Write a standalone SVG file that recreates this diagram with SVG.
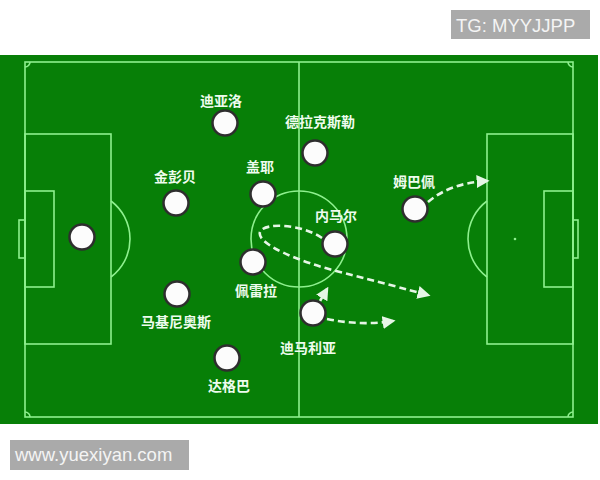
<svg xmlns="http://www.w3.org/2000/svg" width="600" height="480" viewBox="0 0 600 480">
<defs>
<style>
.ln{fill:none;stroke:#8ef08e;stroke-width:1.6}
.pl circle{fill:#fcfcfc;stroke:#2e2e2e;stroke-width:2.5}
.pl text{font-family:"Noto Sans CJK SC","Noto Sans",sans-serif;font-size:14px;font-weight:bold;fill:#eefcee;text-anchor:middle}
.mv{fill:none;stroke:#e6f6e6;stroke-width:2.6;stroke-dasharray:7 4}
.tag{font-family:"Liberation Sans",Arial,sans-serif;font-size:18.5px;fill:#f4f4f4}
</style>
<marker id="ah" viewBox="0 0 10 10" refX="8" refY="5" markerWidth="5" markerHeight="5" orient="auto" markerUnits="strokeWidth">
<path d="M0,0 L10,5 L0,10 z" fill="#e6f6e6"/>
</marker>
</defs>
<rect width="600" height="480" fill="#ffffff"/>
<rect x="451" y="10" width="139" height="29" fill="#aaaaaa"/>
<text class="tag" x="456" y="32" font-size="18">TG: MYYJJPP</text>
<rect x="0" y="55" width="598" height="369" fill="#077f07"/>
<g id="pitch">
<rect class="ln" x="25" y="62" width="548" height="355"/>
<line class="ln" x1="299" y1="62" x2="299" y2="417"/>
<circle class="ln" cx="299" cy="239" r="48"/>
<rect class="ln" x="25" y="134" width="86" height="210"/>
<rect class="ln" x="25" y="191" width="29" height="96"/>
<rect class="ln" x="19" y="220" width="6" height="38"/>
<path class="ln" d="M111,201 A47.5,47.5 0 0 1 111,277"/>
<rect class="ln" x="487" y="134" width="86" height="210"/>
<rect class="ln" x="544" y="191" width="29" height="96"/>
<rect class="ln" x="573" y="220" width="5" height="38"/>
<path class="ln" d="M487,201 A47.5,47.5 0 0 0 487,277"/>
<circle cx="515" cy="239" r="1.3" fill="#8ef08e"/>
<path class="ln" d="M25,67 A5,5 0 0 0 30,62"/>
<path class="ln" d="M568,62 A5,5 0 0 0 573,67"/>
<path class="ln" d="M25,412 A5,5 0 0 1 30,417"/>
<path class="ln" d="M568,417 A5,5 0 0 1 573,412"/>
</g>
<g id="connectors">
<path class="mv" d="M322,238 C302,224 264,222 260,232 C256,244 300,262 340,272 C380,282 405,289 428,295" marker-end="url(#ah)"/>
<path class="mv" d="M428,202 Q450,183 487,181" marker-end="url(#ah)"/>
<path class="mv" d="M320,301 L327,289" marker-end="url(#ah)"/>
<path class="mv" d="M327,319 Q360,326 393,321" marker-end="url(#ah)"/>
</g>
<g id="gk" class="pl"><circle cx="82" cy="237" r="12.5"/></g>
<g id="diallo" class="pl"><circle cx="225" cy="123" r="12.5"/><text x="221" y="106">迪亚洛</text></g>
<g id="draxler" class="pl"><circle cx="315" cy="153" r="12.5"/><text x="320" y="127">德拉克斯勒</text></g>
<g id="kimpembe" class="pl"><circle cx="176" cy="203" r="12.5"/><text x="175" y="182">金彭贝</text></g>
<g id="gueye" class="pl"><circle cx="263" cy="194" r="12.5"/><text x="260" y="172">盖耶</text></g>
<g id="neymar" class="pl"><circle cx="335" cy="244" r="12.5"/><text x="336" y="221">内马尔</text></g>
<g id="mbappe" class="pl"><circle cx="415" cy="209" r="12.5"/><text x="414" y="187">姆巴佩</text></g>
<g id="pereira" class="pl"><circle cx="253" cy="262" r="12.5"/><text x="256" y="296">佩雷拉</text></g>
<g id="marquinhos" class="pl"><circle cx="177" cy="294" r="12.5"/><text x="176" y="327">马基尼奥斯</text></g>
<g id="dimaria" class="pl"><circle cx="313" cy="313" r="12.5"/><text x="308" y="353">迪马利亚</text></g>
<g id="dagba" class="pl"><circle cx="227" cy="358" r="12.5"/><text x="229" y="391">达格巴</text></g>
<rect x="10" y="440" width="179" height="30" fill="#aaaaaa"/>
<text class="tag" x="15" y="461">www.yuexiyan.com</text>
</svg>
